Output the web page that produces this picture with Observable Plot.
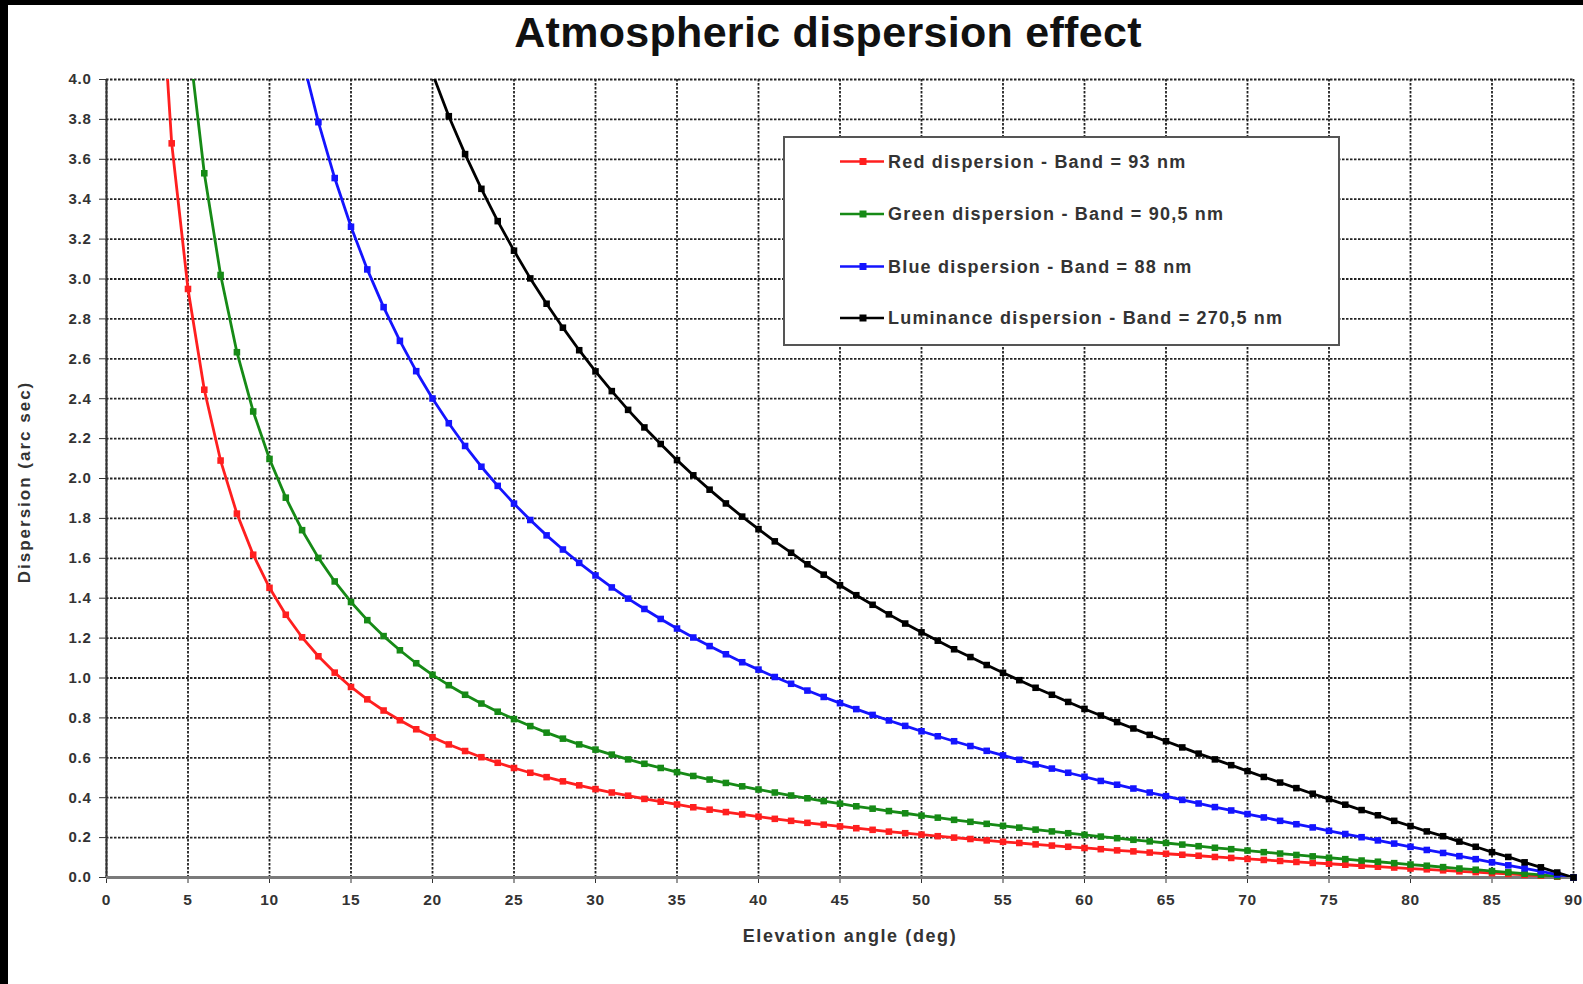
<!DOCTYPE html>
<html>
<head>
<meta charset="utf-8">
<script src="https://cdn.jsdelivr.net/npm/d3@7"></script>
<script src="https://cdn.jsdelivr.net/npm/@observablehq/plot@0.6"></script>
<style>
  html, body { margin: 0; padding: 0; background: #000; width: 1583px; height: 984px; overflow: hidden; }
  #page { position: absolute; left: 8px; top: 5px; width: 1575px; height: 979px; background: #fff; }
  #title { position: absolute; left: 828px; top: 11px; transform: translateX(-50%); white-space: nowrap;
    font-family: "Liberation Sans", Arial, sans-serif; font-weight: bold; font-size: 43px; line-height: 43px;
    letter-spacing: 0.3px; color: #111; }
  #chart { position: absolute; left: 8px; top: 60px; }
  #xtitle { position: absolute; left: 850px; top: 927px; transform: translateX(-50%); white-space: nowrap;
    font-family: "Liberation Sans", Arial, sans-serif; font-weight: bold; font-size: 18px; line-height: 18px;
    letter-spacing: 1.6px; color: #333; }
  #ytitle { position: absolute; left: 24px; top: 482px; transform: translate(-50%, -50%) rotate(-90deg); white-space: nowrap;
    font-family: "Liberation Sans", Arial, sans-serif; font-weight: bold; font-size: 17px; line-height: 17px;
    letter-spacing: 2px; color: #333; }
  #legend { position: absolute; left: 783px; top: 136px; }
  .ticklbl text { font-weight: bold; letter-spacing: 0.7px; }
</style>
</head>
<body>
<div id="page"></div>
<div id="title">Atmospheric dispersion effect</div>
<div id="chart"></div>
<div id="xtitle">Elevation angle (deg)</div>
<div id="ytitle">Dispersion (arc sec)</div>
<svg id="legend" width="560" height="212"></svg>
<script>
// Elevation angle (deg), one point per degree
const elevation = [3,4,5,6,7,8,9,10,11,12,13,14,15,16,17,18,19,20,21,22,23,24,25,26,27,28,29,30,31,32,33,34,35,36,37,38,39,40,41,42,43,44,45,46,47,48,49,50,51,52,53,54,55,56,57,58,59,60,61,62,63,64,65,66,67,68,69,70,71,72,73,74,75,76,77,78,79,80,81,82,83,84,85,86,87,88,89,90];

// Dispersion (arc sec)
const redDispersion = [4.95,3.68,2.95,2.445,2.09,1.824,1.618,1.452,1.317,1.204,1.109,1.027,0.955,0.893,0.837,0.788,0.743,0.703,0.667,0.634,0.603,0.575,0.549,0.525,0.503,0.482,0.462,0.443,0.426,0.410,0.394,0.380,0.366,0.352,0.340,0.328,0.316,0.305,0.294,0.284,0.274,0.265,0.256,0.247,0.239,0.230,0.222,0.215,0.207,0.200,0.193,0.186,0.179,0.173,0.166,0.160,0.154,0.148,0.142,0.136,0.131,0.125,0.119,0.114,0.109,0.103,0.098,0.093,0.088,0.083,0.078,0.073,0.069,0.064,0.059,0.054,0.050,0.045,0.041,0.036,0.031,0.027,0.022,0.018,0.013,0.009,0.004,0];

const greenDispersion = [null,null,4.23,3.53,3.02,2.633,2.336,2.098,1.904,1.741,1.602,1.484,1.381,1.290,1.210,1.139,1.074,1.016,0.964,0.916,0.872,0.831,0.794,0.759,0.726,0.696,0.667,0.641,0.616,0.592,0.570,0.549,0.528,0.509,0.491,0.474,0.457,0.441,0.426,0.411,0.397,0.383,0.370,0.357,0.345,0.333,0.322,0.310,0.300,0.289,0.279,0.269,0.259,0.250,0.240,0.231,0.222,0.214,0.205,0.197,0.189,0.181,0.173,0.165,0.157,0.149,0.142,0.135,0.127,0.120,0.113,0.106,0.099,0.092,0.085,0.079,0.072,0.065,0.059,0.052,0.045,0.039,0.032,0.026,0.019,0.013,0.006,0];

const blueDispersion = [null,null,null,null,null,null,null,null,null,4.112,3.786,3.506,3.262,3.048,2.859,2.690,2.538,2.401,2.277,2.163,2.059,1.963,1.874,1.792,1.715,1.644,1.577,1.514,1.454,1.398,1.346,1.296,1.248,1.203,1.160,1.119,1.079,1.042,1.005,0.971,0.937,0.905,0.874,0.844,0.815,0.787,0.760,0.733,0.708,0.683,0.659,0.635,0.612,0.590,0.567,0.546,0.525,0.505,0.484,0.465,0.446,0.426,0.408,0.389,0.371,0.353,0.336,0.318,0.301,0.284,0.267,0.251,0.234,0.218,0.202,0.186,0.170,0.154,0.138,0.123,0.107,0.092,0.076,0.061,0.046,0.031,0.015,0];

const luminanceDispersion = [null,null,null,null,null,null,null,null,null,null,null,null,null,null,null,null,null,4.03,3.816,3.626,3.452,3.290,3.142,3.003,2.876,2.756,2.643,2.537,2.438,2.344,2.256,2.173,2.092,2.016,1.944,1.875,1.809,1.746,1.685,1.628,1.570,1.518,1.465,1.415,1.367,1.319,1.273,1.229,1.187,1.144,1.105,1.065,1.026,0.989,0.951,0.916,0.880,0.845,0.812,0.779,0.747,0.715,0.683,0.652,0.621,0.592,0.563,0.533,0.504,0.476,0.448,0.420,0.393,0.365,0.338,0.312,0.284,0.258,0.231,0.207,0.180,0.154,0.127,0.103,0.076,0.051,0.025,0];

const seriesNames = ["Red dispersion - Band = 93 nm", "Green dispersion - Band = 90,5 nm", "Blue dispersion - Band = 88 nm", "Luminance dispersion - Band = 270,5 nm"];
const seriesColors = ["#ff1f1f", "#168a16", "#1414ff", "#000000"];
const seriesValues = [redDispersion, greenDispersion, blueDispersion, luminanceDispersion];

const xTicks = [0,5,10,15,20,25,30,35,40,45,50,55,60,65,70,75,80,85,90];
const yTicks = [0,0.2,0.4,0.6,0.8,1.0,1.2,1.4,1.6,1.8,2.0,2.2,2.4,2.6,2.8,3.0,3.2,3.4,3.6,3.8,4.0];

const tables = seriesValues.map((vals, s) =>
  elevation.map((e, i) => ({elev: e, disp: vals[i], series: seriesNames[s]})).filter(d => d.disp != null)
);

const seriesMarks = [];
tables.forEach((tbl, s) => {
  seriesMarks.push(Plot.line(tbl, {x: "elev", y: "disp", stroke: seriesColors[s], strokeWidth: 2.8, clip: true}));
  seriesMarks.push(Plot.dot(tbl.filter(d => d.disp <= 4.0), {x: "elev", y: "disp", fill: seriesColors[s], symbol: "square", r: 3.7, stroke: "none"}));
});

const chart = Plot.plot({
  width: 1575,
  height: 924,
  marginTop: 19,
  marginLeft: 98,
  marginRight: 10,
  marginBottom: 107,
  style: {fontFamily: "'Liberation Sans', Arial, sans-serif", color: "#333", background: "transparent", overflow: "visible"},
  x: {domain: [0, 90]},
  y: {domain: [0, 4]},
  marks: [
    Plot.gridX(xTicks, {stroke: "#222", strokeOpacity: 1, strokeWidth: 1.8, strokeDasharray: "2.5,1.5"}),
    Plot.gridY(yTicks, {stroke: "#222", strokeOpacity: 1, strokeWidth: 1.8, strokeDasharray: "2.5,1.5"}),
    Plot.axisY(yTicks, {tickFormat: d => d.toFixed(1), tickSize: 7, tickPadding: 8, fontSize: 15, fontWeight: "bold", label: null, className: "ticklbl", stroke: "#333"}),
    Plot.axisX(xTicks, {tickFormat: d => String(d), tickSize: 6, tickPadding: 10, fontSize: 15.5, fontWeight: "bold", label: null, className: "ticklbl", stroke: "#333"}),
    Plot.ruleX([0], {stroke: "#333", strokeWidth: 2}),
    Plot.ruleY([0], {stroke: "#7a7a7a", strokeWidth: 3}),
    ...seriesMarks
  ]
});
document.getElementById("chart").appendChild(chart);

// Legend
const lg = d3.select("#legend");
lg.append("rect").attr("x", 1).attr("y", 1).attr("width", 555).attr("height", 208)
  .attr("fill", "#fff").attr("stroke", "#555").attr("stroke-width", 2);
const rowY = [25.5, 78, 130.5, 182];
seriesNames.forEach((name, i) => {
  const g = lg.append("g").attr("transform", `translate(0,${rowY[i]})`);
  g.append("line").attr("x1", 57).attr("x2", 101).attr("y1", 0).attr("y2", 0)
    .attr("stroke", seriesColors[i]).attr("stroke-width", 2.6);
  g.append("rect").attr("x", 76.5).attr("y", -3.5).attr("width", 7).attr("height", 7).attr("fill", seriesColors[i]);
  g.append("text").attr("x", 105).attr("y", 0).attr("dominant-baseline", "central")
    .attr("font-family", "'Liberation Sans', Arial, sans-serif").attr("font-weight", "bold")
    .attr("font-size", 18).attr("letter-spacing", 1.2).attr("fill", "#333").text(name);
});
</script>
</body>
</html>
